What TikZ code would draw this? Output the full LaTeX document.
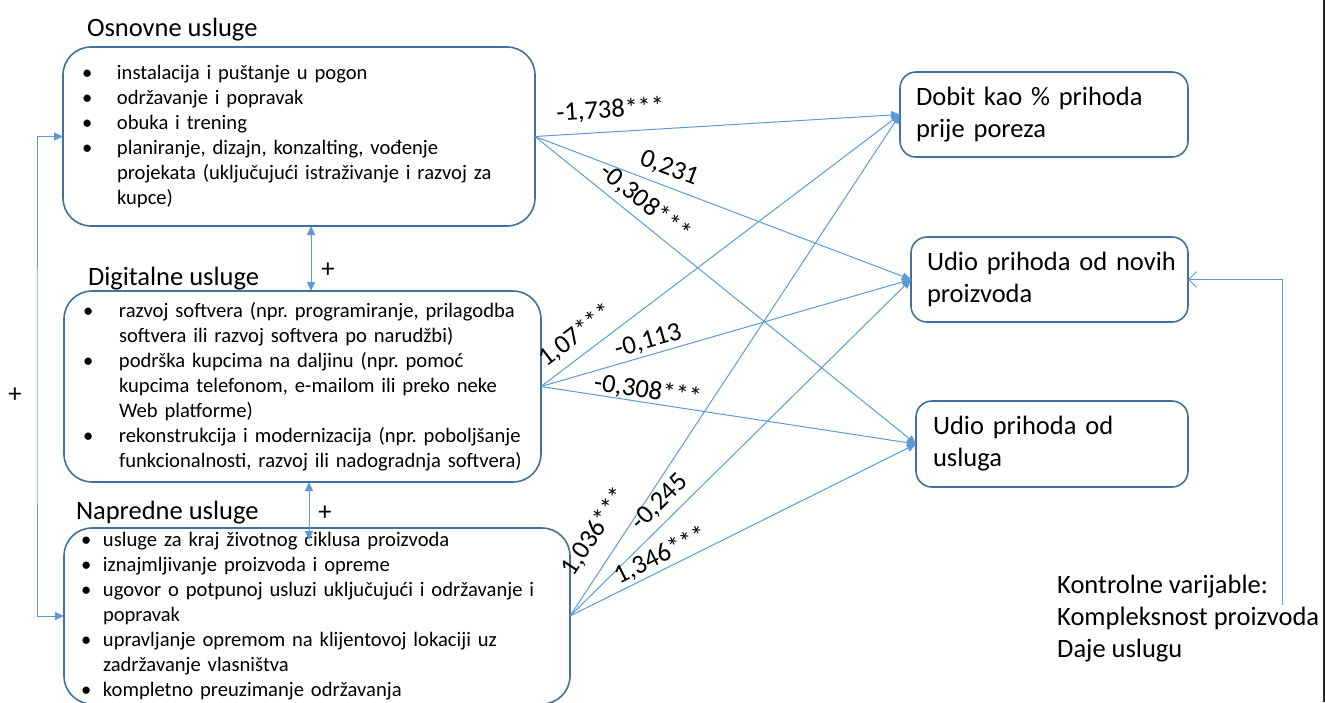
\documentclass[tikz,border=0pt]{standalone}
\usepackage{fontspec}
\setmainfont{Carlito}
\usetikzlibrary{arrows.meta,positioning}
\frenchspacing

\definecolor{boxblue}{HTML}{41719C}
\definecolor{linkblue}{HTML}{5B9BD5}

\newcommand{\smallfs}{\fontsize{20.6}{25}\selectfont}
\newcommand{\bigfs}{\fontsize{26.5}{32}\selectfont}
% bullet: gap before the bullet, then the indent of the text
\newcommand{\bul}[2]{\makebox[#2][l]{\hspace*{#1}\textbullet}}

\tikzset{
	>={Triangle[length=9pt,width=8pt]},
	grp/.style={draw=boxblue, line width=1.6pt, rounded corners=28pt, anchor=north west,
		align=left, inner xsep=0pt, inner ysep=0pt, outer sep=0pt, font=\smallfs},
	res/.style={draw=boxblue, line width=1.6pt, rounded corners=16pt, anchor=north west,
		align=left, inner xsep=0pt, inner ysep=0pt, outer sep=0pt, font=\bigfs},
	ttl/.style={inner sep=0pt, outer sep=0pt, font=\bigfs},
	link/.style={draw=linkblue, line width=1pt},
	coef/.style={sloped, anchor=south, inner xsep=0pt, font=\bigfs},
	plus/.style={inner sep=0pt, font=\bigfs},
}

\begin{document}
\begin{tikzpicture}[x=1pt,y=-1pt]

	\useasboundingbox (0,0) rectangle (1325,702);

	% groups of services
	\node[grp, text width=472pt, minimum height=179pt] (osn) at (63,47) {%
		\bul{19pt}{54pt}instalacija i puštanje u pogon\\
		\bul{19pt}{54pt}održavanje i popravak\\
		\bul{19pt}{54pt}obuka i trening\\
		\bul{19pt}{54pt}planiranje, dizajn, konzalting, vođenje\\
		\hspace*{54pt}projekata (uključujući istraživanje i razvoj za\\
		\hspace*{54pt}kupce)};

	\node[grp, text width=477pt, minimum height=191pt] (dig) at (64,291) {%
		\bul{19pt}{55pt}razvoj softvera (npr. programiranje, prilagodba\\
		\hspace*{55pt}softvera ili razvoj softvera po narudžbi)\\
		\bul{19pt}{55pt}podrška kupcima na daljinu (npr. pomoć\\
		\hspace*{55pt}kupcima telefonom, e-mailom ili preko neke\\
		\hspace*{55pt}Web platforme)\\
		\bul{19pt}{55pt}rekonstrukcija i modernizacija (npr. poboljšanje\\
		\hspace*{55pt}funkcionalnosti, razvoj ili nadogradnja softvera)};

	\node[grp, text width=506pt, minimum height=176pt] (nap) at (64,528) {%
		\bul{17pt}{39pt}usluge za kraj životnog ciklusa proizvoda\\
		\bul{17pt}{39pt}iznajmljivanje proizvoda i opreme\\
		\bul{17pt}{39pt}ugovor o potpunoj usluzi uključujući i održavanje i\\
		\hspace*{39pt}popravak\\
		\bul{17pt}{39pt}upravljanje opremom na klijentovoj lokaciji uz\\
		\hspace*{39pt}zadržavanje vlasništva\\
		\bul{17pt}{39pt}kompletno preuzimanje održavanja};

	\node[ttl, above right=6pt and 24pt of osn.north west] (osnT) {Osnovne usluge};
	\node[ttl, above right=1pt and 24pt of dig.north west] (digT) {Digitalne usluge};
	\node[ttl, above right=4pt and 12pt of nap.north west] (napT) {Napredne usluge};

	% outcomes
	\node[res, text width=288pt, minimum height=85pt] (dob) at (900,72)
		{\hspace*{16pt}Dobit kao \% prihoda\\\hspace*{16pt}prije poreza};
	\node[res, text width=277pt, minimum height=85pt] (nov) at (911,237)
		{\hspace*{16pt}Udio prihoda od novih\\\hspace*{16pt}proizvoda};
	\node[res, text width=272pt, minimum height=86pt] (usl) at (916,401)
		{\hspace*{17pt}Udio prihoda od\\\hspace*{17pt}usluga};

	% links between the groups
	\draw[link,<->] ([xshift=12pt]osn.south) -- ([xshift=12pt]osn.south |- dig.north);
	\draw[link,<->] ([xshift=6.5pt]dig.south) -- ([xshift=6.5pt,yshift=-12pt]dig.south |- nap.north);
	\coordinate (lp) at (37,395);
	\draw[link,<->] (osn.west) -| (lp) |- (nap.west);

	\node[plus] (p1) at (328,270) {+};
	\node[plus] (p2) at (325,513) {+};
	\node[plus] (p3) at (15,395) {+};

	% coefficients
	\draw[link,->] (osn.east) -- node[coef, pos=0.21, inner ysep=10pt] {-1,738***} (dob.west);
	\draw[link,->] (osn.east) -- node[coef, pos=0.34, inner ysep=7pt] {0,231} (nov.west);
	\draw[link,->] (osn.east) -- node[coef, pos=0.26, inner ysep=6pt] {-0,308***} (usl.west);

	\draw[link,->] (dig.east) -- node[coef, pos=0.13, inner ysep=8pt] {1,07***} (dob.west);
	\draw[link,->] (dig.east) -- node[coef, pos=0.30, inner ysep=3pt] {-0,113} (nov.west);
	\draw[link,->] (dig.east) -- node[coef, pos=0.28, inner ysep=0pt] {-0,308***} (usl.west);

	\draw[link,->] (nap.east) -- node[coef, pos=0.14, inner ysep=14pt] {1,036***} (dob.west);
	\draw[link,->] (nap.east) -- node[coef, pos=0.30, inner ysep=7pt] {-0,245} (nov.west);
	\draw[link,->] (nap.east) -- node[coef, pos=0.28, inner ysep=2pt] {1,346***} (usl.west);

	% control variables
	\node[anchor=west, align=left, inner sep=0pt, font=\bigfs] (ctl) at (1057,619)
		{Kontrolne varijable:\\Kompleksnost proizvoda\\Daje uslugu};
	\coordinate (ctlT) at (1282,605);
	\draw[link,-{Straight Barb[length=8pt,width=16pt]}] (ctlT) |- (nov.east);

	\draw[line width=2pt, black!85] (1324,0) -- (1324,702);

\end{tikzpicture}
\end{document}
